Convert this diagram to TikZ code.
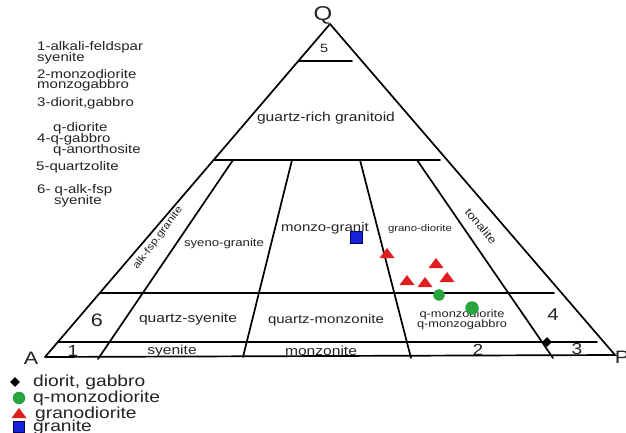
\documentclass[tikz,border=0pt]{standalone}
\usepackage{fontspec}
\setmainfont[FakeStretch=1.2]{Liberation Sans}
\usetikzlibrary{shapes.geometric}
\definecolor{tri}{RGB}{225,30,30}
\definecolor{grn}{RGB}{40,165,60}
\definecolor{blu}{RGB}{25,35,215}
\definecolor{ink}{RGB}{35,35,35}
\tikzset{
  edge/.style={line width=1.7pt, line cap=round},
  fs/.style={inner sep=0pt, text=ink, font=\fontsize{#1}{#1}\selectfont},
  lst/.style={inner sep=0pt, anchor=west, text=ink, font=\fontsize{12.5}{12.5}\selectfont},
  leg/.style={inner sep=0pt, anchor=west, text=ink, font=\fontsize{16}{16}\selectfont},
  redtri/.pic={\fill[tri] (-7.5,5) -- (0,-5) -- (7.5,5) -- cycle;},
  dia/.style={diamond, fill=black, inner sep=0pt, minimum size=#1},
  dot/.style={circle, fill=grn, inner sep=0pt, minimum size=#1},
  sq/.style={rectangle, fill=blu, draw=blue!40!black, line width=0.6pt, inner sep=0pt, minimum size=#1}
}
\begin{document}
\begin{tikzpicture}[x=1pt,y=-1pt]
\useasboundingbox (0,0) rectangle (626,433);
% corners
\coordinate (A) at (45,357);
\coordinate (P) at (615,355);
\coordinate (Q) at (330,24);
% horizontal lines
\coordinate (h1l) at (298.4,61);  \coordinate (h1r) at (352,61);
\coordinate (h2l) at (213.6,160); \coordinate (h2r) at (440,160);
\coordinate (h3l) at (99.8,293);  \coordinate (h3r) at (554,293);
\coordinate (h4l) at (57.8,342);  \coordinate (h4r) at (597,342);
% dividers
\coordinate (d1t) at (233,160); \coordinate (d1b) at (98,359);
\coordinate (d2t) at (292,160); \coordinate (d2b) at (243,357);
\coordinate (d3t) at (360,160); \coordinate (d3b) at (411,358);
\coordinate (d4t) at (417,160); \coordinate (d4b) at (553,358);

\draw[edge] (A) -- (Q) -- (P) -- (A);
\draw[edge] (h1l) -- (h1r);
\draw[edge] (h2l) -- (h2r);
\draw[edge] (h3l) -- (h3r);
\draw[edge] (h4l) -- (h4r);
\draw[edge] (d1t) -- (d1b);
\draw[edge] (d2t) -- (d2b);
\draw[edge] (d3t) -- (d3b);
\draw[edge] (d4t) -- (d4b);

% vertex and field labels
\node[fs=20] (lQ) at (323,15) {Q};
\node[fs=18] (lA) at (31,358) {A};
\node[fs=18] (lP) at (622,357) {P};
\node[fs=12] (l5) at (324,48) {5};
\node[fs=13] (lqr) at (326,118) {guartz-rich granitoid};
\node[fs=10,rotate=53] (lafg) at (158,238) {alk-fsp.granite};
\node[fs=11] (lsg) at (224,244) {syeno-granite};
\node[fs=12.5] (lmg) at (325,228) {monzo-granit};
\node[fs=9.5] (lgd) at (420,229) {grano-diorite};
\node[fs=11,rotate=-50] (lton) at (481,226) {tonalite};
\node[fs=18] (l6) at (97,320) {6};
\node[fs=13] (lqs) at (188,319) {quartz-syenite};
\node[fs=12.5] (lqm) at (326,320) {quartz-monzonite};
\node[fs=10.7, align=center] (lqmd) at (462,319.5) {q-monzodiorite\\[-1pt]q-monzogabbro};
\node[fs=17] (l4) at (553,315) {4};
\node[fs=16] (l1) at (73,351) {1};
\node[fs=13] (lsy) at (172,351) {syenite};
\node[fs=13] (lmz) at (321,351) {monzonite};
\node[fs=16] (l2) at (478,350) {2};
\node[fs=16] (l3) at (577,349) {3};

% data points
\node[sq=12pt] (g1) at (356,237) {};
\pic (t1) at (387,253) {redtri};
\pic (t2) at (436,263) {redtri};
\pic (t3) at (407,280) {redtri};
\pic (t4) at (425,282) {redtri};
\pic (t5) at (447,277) {redtri};
\node[dot=11.5pt] (c1) at (439,295) {};
\node[dot=13.5pt] (c2) at (472,308) {};
\node[dia=10pt] (m1) at (547,342) {};

% list of fields
\node[lst] (n1a) at (37,47) {1-alkali-feldspar};
\node[lst] (n1b) at (37,58) {syenite};
\node[lst] (n2a) at (37,74) {2-monzodiorite};
\node[lst] (n2b) at (37,85) {monzogabbro};
\node[lst] (n3) at (37,103) {3-diorit,gabbro};
\node[lst] (n4a) at (53,128) {q-diorite};
\node[lst] (n4b) at (37,139) {4-q-gabbro};
\node[lst] (n4c) at (53,150) {q-anorthosite};
\node[lst] (n5) at (36,167) {5-quartzolite};
\node[lst] (n6a) at (37,190) {6- q-alk-fsp};
\node[lst] (n6b) at (54,201) {syenite};

% legend
\node[dia=10pt] (k1) at (15,382) {};
\node[leg] (kt1) at (33,382) {diorit, gabbro};
\node[dot=12.5pt] (k2) at (19,398) {};
\node[leg] (kt2) at (33,398) {q-monzodiorite};
\pic (k3) at (19,413) {redtri};
\node[leg] (kt3) at (35,414) {granodiorite};
\node[sq=11pt] (k4) at (19,427) {};
\node[leg] (kt4) at (33,427) {granite};
\end{tikzpicture}
\end{document}
